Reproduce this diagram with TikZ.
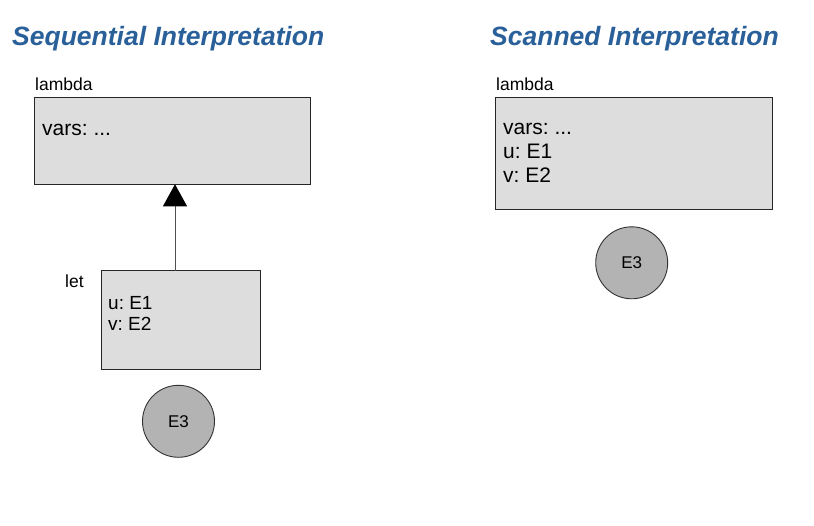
\documentclass[tikz,border=0pt]{standalone}
\usepackage{fontspec}
\setmainfont{Liberation Sans}
\usetikzlibrary{arrows.meta,calc}
\frenchspacing
\definecolor{titleblue}{RGB}{42,96,153}
\definecolor{boxgray}{RGB}{221,221,221}
\definecolor{circgray}{RGB}{179,179,179}
\definecolor{arrgray}{RGB}{80,80,80}
\tikzset{
  box/.style={draw=black!85, line width=0.9pt, fill=boxgray, inner sep=0pt, outer sep=0pt},
  circ/.style={circle, draw=black!80, line width=0.9pt, fill=circgray, inner sep=0pt, outer sep=0pt, minimum size=72pt, font=\fontsize{17}{20}\selectfont},
  ttl/.style={anchor=base west, inner sep=0pt, text=titleblue, font=\fontsize{26.5}{30}\selectfont\bfseries\itshape},
  lbl/.style={anchor=base west, inner sep=0pt, font=\fontsize{17.5}{20}\selectfont},
  big/.style={anchor=base west, inner sep=0pt, align=left, font=\fontsize{21}{24}\selectfont},
  mid/.style={anchor=base west, inner sep=0pt, align=left, font=\fontsize{19}{21}\selectfont},
  arr/.style={draw=arrgray, line width=1pt, -{Triangle[width=24pt,length=22pt,color=black]}}
}
\begin{document}
\begin{tikzpicture}[x=1pt,y=-1pt]
\useasboundingbox[fill=white] (0,0) rectangle (814,525);
% titles
\node[ttl] (t1) at (12,45) {Sequential Interpretation};
\node[ttl] (t2) at (490,45) {Scanned Interpretation};
% left lambda
\node[box, minimum width=275.7pt, minimum height=87pt] (lam1) at (172.2,140.8) {};
\node[lbl] (lam1l) at (35,90) {lambda};
\node[big] (lam1t) at (42,135) {vars: ...};
% let box
\node[box, minimum width=159pt, minimum height=98.3pt] (let) at (181.2,319.9) {};
\node[lbl] (letl) at (65,287) {let};
\node[mid] (lett) at (108,330) {u: E1\\v: E2};
% arrow
\coordinate (ap) at ($(let.north west)!0.461!(let.north east)$);
\draw[arr] (ap) -- (ap |- lam1.south);
% left circle
\node[circ] (e3a) at (178.5,421.3) {E3};
% right lambda
\node[box, minimum width=276.3pt, minimum height=111.7pt] (lam2) at (633.9,153.2) {};
\node[lbl] (lam2l) at (496,90) {lambda};
\node[big] (lam2t) at (503,182) {vars: ...\\u: E1\\v: E2};
% right circle
\node[circ] (e3b) at (631.7,262.8) {E3};
\end{tikzpicture}
\end{document}
